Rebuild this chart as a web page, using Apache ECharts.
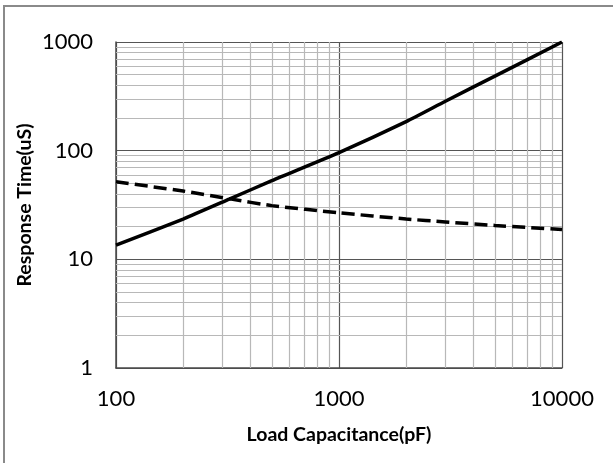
<!DOCTYPE html>
<html>
<head>
<meta charset="utf-8">
<script src="https://cdn.jsdelivr.net/npm/echarts@6/dist/echarts.min.js"></script>
<style>
html,body{margin:0;padding:0;background:#fff;}
#chart{width:613px;height:463px;}
</style>
</head>
<body>
<div id="chart"></div>
<script>
// Load capacitance (pF) sample points
var solidX = [100, 200, 324, 500, 1000, 2000, 3000, 5000, 10000];
var solidY = [13.5, 23.5, 36, 53, 96, 185, 285, 485, 1000];
var dashX = [100, 200, 324, 500, 1000, 2000, 3000, 5000, 10000];
var dashY = [51.7, 42.5, 36, 31.2, 26.8, 23.5, 22.1, 20.5, 18.8];
// minor grid positions (tick values)
var minorX = [200, 300, 400, 500, 600, 700, 800, 900, 2000, 3000, 4000, 5000, 6000, 7000, 8000, 9000];
var minorY = [2, 3, 4, 5, 6, 7, 8, 9, 20, 30, 40, 50, 60, 70, 80, 90, 200, 300, 400, 500, 600, 700, 800, 900];
var xTitle = 'Load Capacitance(pF)';
var yTitle = 'Response Time(uS)';

function pairs(xs, ys) { return xs.map(function (x, i) { return [x, ys[i]]; }); }
function plain(v) { return String(Math.round(v)); }

var chart = echarts.init(document.getElementById('chart'), null, {renderer: 'canvas'});
var fontFam = 'Lato, "Open Sans", sans-serif';
chart.setOption({
  animation: false,
  backgroundColor: '#fff',
  grid: {left: 116, top: 42, right: 51, bottom: 95, containLabel: false},
  graphic: [{
    type: 'rect', shape: {x: 4, y: 6, width: 700, height: 600},
    style: {fill: 'none', stroke: '#8a8a8a', lineWidth: 2}, z: -10
  }],
  xAxis: {
    type: 'log', logBase: 10, min: 100, max: 10000,
    name: xTitle, nameLocation: 'middle', nameGap: 57,
    nameTextStyle: {fontFamily: fontFam, fontWeight: 'bold', fontSize: 19.5, color: '#000'},
    axisLine: {show: true, lineStyle: {color: '#4a4a4a', width: 1.5}},
    axisTick: {show: false},
    axisLabel: {fontFamily: fontFam, fontSize: 22, color: '#000', margin: 20, formatter: plain},
    splitLine: {show: true, lineStyle: {color: '#555', width: 1.2}}
  },
  yAxis: {
    type: 'log', logBase: 10, min: 1, max: 1000,
    name: yTitle, nameLocation: 'middle', nameGap: 81, nameMoveOverlap: false,
    nameTextStyle: {fontFamily: fontFam, fontWeight: 'bold', fontSize: 19.5, color: '#000'},
    axisLine: {show: true, lineStyle: {color: '#4a4a4a', width: 1.5}},
    axisTick: {show: false},
    axisLabel: {fontFamily: fontFam, fontSize: 22, color: '#000', margin: 23, formatter: plain},
    splitLine: {show: true, lineStyle: {color: '#555', width: 1.2}}
  },
  series: [
    {
      type: 'line', data: [], silent: true, z: 1,
      markLine: {
        silent: true, symbol: ['none', 'none'], label: {show: false},
        lineStyle: {color: '#b8b8b8', type: 'solid', width: 1.2},
        emphasis: {disabled: true},
        data: minorX.map(function (v) { return {xAxis: v}; })
          .concat(minorY.map(function (v) { return {yAxis: v}; }))
      }
    },
    {
      type: 'line', data: pairs(solidX, solidY), smooth: 0.2, showSymbol: false, z: 5,
      lineStyle: {color: '#000', width: 3.5, type: 'solid'}
    },
    {
      type: 'line', data: pairs(dashX, dashY), smooth: 0.2, showSymbol: false, z: 5,
      lineStyle: {color: '#000', width: 3.5, type: [13, 6]}
    }
  ]
});
</script>
</body>
</html>
